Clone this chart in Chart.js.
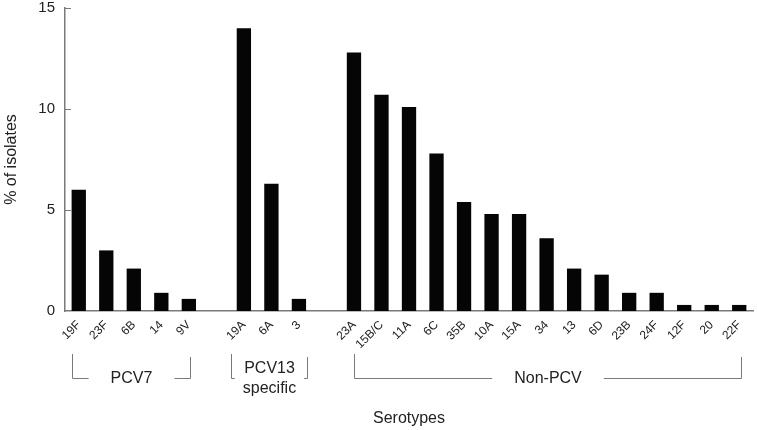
<!DOCTYPE html>
<html>
<head>
<meta charset="utf-8">
<script src="https://cdn.jsdelivr.net/npm/chart.js@4.4.1/dist/chart.umd.min.js"></script>
<style>
  html, body { margin: 0; padding: 0; background: #fff; }
  #wrap { width: 757px; height: 430px; position: relative; }
</style>
</head>
<body>
<div id="wrap"><canvas id="serotypeChart"></canvas></div>
<script>
// serotypes, one empty slot between the vaccine groups
const serotypes = ['19F', '23F', '6B', '14', '9V', '', '19A', '6A', '3', '', '23A', '15B/C', '11A', '6C', '35B', '10A', '15A', '34', '13', '6D', '23B', '24F', '12F', '20', '22F'];
const percentIsolates = [6.0, 3.0, 2.1, 0.9, 0.6, null, 14.0, 6.3, 0.6, null, 12.8, 10.7, 10.1, 7.8, 5.4, 4.8, 4.8, 3.6, 2.1, 1.8, 0.9, 0.9, 0.3, 0.3, 0.3];
const yTicks = [0, 5, 10, 15];

// groups under the axis (bracket ends in category units)
const groupLabels = [['PCV7'], ['PCV13', 'specific'], ['Non-PCV']];
const groupStart = [-0.25, 5.55, 10];
const groupEnd = [4.05, 8.3, 24.05];

const FONT = '"Liberation Sans Narrow", "Liberation Sans", Arial, sans-serif';
const TEXT = '#222';
const LINE = '#7a7a7a';

const groupBrackets = {
    id: 'groupBrackets',
    afterDraw(chart) {
        const ctx = chart.ctx;
        const x = chart.scales.x;
        const y = chart.scales.y;
        ctx.save();

        // small tick marks inside the y axis
        ctx.strokeStyle = LINE;
        ctx.lineWidth = 1;
        yTicks.slice(1).forEach(v => {
            const py = Math.round(y.getPixelForValue(v)) + 0.5;
            ctx.beginPath();
            ctx.moveTo(x.left, py);
            ctx.lineTo(x.left + 6, py);
            ctx.stroke();
        });

        // brackets and group names
        ctx.font = '16px ' + FONT;
        ctx.fillStyle = TEXT;
        ctx.textAlign = 'center';
        ctx.textBaseline = 'middle';
        const lineY = 378.5;
        const topY = 354;
        groupLabels.forEach((lines, i) => {
            const x1 = Math.round(x.getPixelForValue(groupStart[i])) + 0.5;
            const x2 = Math.round(x.getPixelForValue(groupEnd[i])) + 0.5;
            const xc = (x1 + x2) / 2;
            const tw = Math.max(...lines.map(t => ctx.measureText(t).width));
            const gap = lines.length > 1 ? 8 : 22;
            ctx.beginPath();
            ctx.moveTo(x1, topY);
            ctx.lineTo(x1, lineY);
            ctx.lineTo(Math.min(xc - tw / 2 - gap, xc), lineY);
            ctx.moveTo(Math.max(xc + tw / 2 + gap, xc), lineY);
            ctx.lineTo(x2, lineY);
            ctx.lineTo(x2, topY + 3);
            ctx.stroke();
            if (lines.length === 1) {
                ctx.fillText(lines[0], xc, lineY);
            } else {
                ctx.fillText(lines[0], xc, lineY - 10);
                ctx.fillText(lines[1], xc, lineY + 10);
            }
        });
        ctx.restore();
    }
};

new Chart(document.getElementById('serotypeChart'), {
    type: 'bar',
    data: {
        labels: serotypes,
        datasets: [{
            label: '% of isolates',
            data: percentIsolates,
            backgroundColor: '#050505',
            borderWidth: 0,
            barPercentage: 1,
            categoryPercentage: 0.52
        }]
    },
    options: {
        responsive: true,
        maintainAspectRatio: false,
        animation: false,
        layout: { padding: { top: 0, right: 4, left: 0, bottom: 0 } },
        plugins: {
            legend: { display: false },
            tooltip: { enabled: false }
        },
        scales: {
            x: {
                grid: { display: false, drawTicks: false },
                border: { color: LINE, width: 1.5 },
                ticks: {
                    color: TEXT,
                    font: { family: FONT, size: 12 },
                    minRotation: 45,
                    maxRotation: 45,
                    autoSkip: false,
                    padding: 7
                },
                title: {
                    display: true,
                    text: 'Serotypes',
                    color: TEXT,
                    font: { family: FONT, size: 16 },
                    padding: { top: 0, bottom: 2 }
                },
                afterFit(scale) { scale.height = 119; }
            },
            y: {
                min: 0,
                max: 15,
                afterBuildTicks(scale) { scale.ticks = yTicks.map(v => ({ value: v })); },
                grid: { display: false, drawTicks: false },
                border: { color: LINE, width: 1.5 },
                ticks: {
                    color: TEXT,
                    font: { family: FONT, size: 15, lineHeight: 1.1 },
                    padding: 10
                },
                title: {
                    display: true,
                    text: '% of isolates',
                    color: TEXT,
                    font: { family: FONT, size: 16 },
                    padding: { top: 2, bottom: 0 }
                },
                afterFit(scale) {
                    scale.width = 65;
                    scale.paddingTop = 8;
                    scale.paddingBottom = 0;
                }
            }
        }
    },
    plugins: [groupBrackets]
});
</script>
</body>
</html>
